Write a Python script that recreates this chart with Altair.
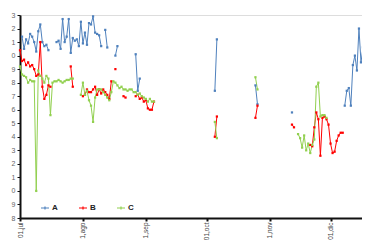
import altair as alt
import pandas as pd
from datetime import date, timedelta

series_names = ["A", "B", "C"]
series_colors = ["#4F81BD", "#FF0000", "#92D050"]

# segments: (start date, consecutive daily values); a new segment = a gap in the line
A_segments = [
    ("2013-07-02", [31.4, 30.5, 31.2, 30.9, 31.6, 31.4, 31.0, 30.3, 31.8, 32.3, 31.0, 30.7, 30.8, 30.4]),
    ("2013-07-19", [31.0, 31.1, 30.5, 32.7, 31.0, 31.4, 32.7, 30.2, 31.3, 31.1, 31.2, 30.7, 32.5, 30.9,
                    31.7, 30.8, 32.4, 32.3, 32.9, 31.7, 31.6, 31.5, 30.7]),
    ("2013-08-12", [31.9, 30.6]),
    ("2013-08-17", [30.0, 30.7]),
    ("2013-08-27", [30.1, 27.4, 28.3]),
    ("2013-10-05", [27.4, 31.2]),
    ("2013-10-25", [27.8, 26.4]),
    ("2013-11-12", [25.8]),
    ("2013-12-08", [26.3, 27.4, 27.6, 26.3, 29.3, 30.0, 28.9, 32.0, 29.5, 30.6]),
]
B_segments = [
    ("2013-07-01", [30.4, 29.6, 29.7, 29.3, 29.5, 29.2, 29.3, 29.0, 28.5, 28.6, 31.0, 27.7, 26.8, 27.1,
                    27.8, 27.7]),
    ("2013-07-26", [29.2, 27.7]),
    ("2013-08-01", [27.0, 27.1, 27.5, 27.3, 27.3, 27.5, 27.7, 27.1, 27.5, 27.2, 27.5, 27.3, 27.1, 26.8, 28.1]),
    ("2013-08-17", [29.0]),
    ("2013-08-21", [27.0, 26.9]),
    ("2013-08-27", [27.0, 27.1, 26.8, 26.9, 26.6, 26.7, 26.1, 26.0, 26.0, 26.6]),
    ("2013-10-05", [24.0, 25.5]),
    ("2013-10-25", [25.4, 26.3]),
    ("2013-11-12", [24.9, 24.7]),
    ("2013-11-21", [23.4, 23.3, 24.7, 25.8, 25.3, 22.6, 25.4, 25.5, 25.3, 24.9, 23.5, 22.8, 22.9, 23.7,
                    24.1, 24.3, 24.3]),
]
C_segments = [
    ("2013-07-01", [29.2, 28.6, 28.5, 28.4, 28.0, 28.2, 28.1, 28.1, 20.0, 28.9, 28.5, 28.3, 28.0, 28.5,
                    28.3, 25.6, 28.0, 28.1, 28.1, 28.2, 28.1, 28.0, 28.1, 28.2, 28.2, 28.3, 28.3]),
    ("2013-07-31", [27.1, 28.0, 27.1, 27.4, 26.7, 26.3, 25.1, 26.9, 27.5, 27.5, 27.5, 27.3, 27.1, 26.9,
                    26.7, 27.3, 28.1, 28.0, 27.8, 27.6, 27.7, 27.5, 27.5, 27.4, 27.5, 27.5, 27.3, 27.3,
                    27.1, 27.2, 27.0, 26.9, 26.8, 26.6, 26.8, 26.6, 26.6]),
    ("2013-10-05", [25.1, 23.9]),
    ("2013-10-25", [28.4, 27.5]),
    ("2013-11-15", [24.2, 23.9, 23.2, 24.1, 23.0, 23.5, 22.8, 23.4, 23.8, 27.7, 28.0, 25.5, 25.6, 25.6, 25.4]),
]

x_labels = ["01,jul", "1,ago", "1,sep", "01,oct", "1,nov", "01,dic"]
y_ticks = list(range(18, 34))

rows = []
for name, segs in zip(series_names, [A_segments, B_segments, C_segments]):
    for k, (start, vals) in enumerate(segs):
        d0 = date.fromisoformat(start)
        for i, v in enumerate(vals):
            rows.append({"series": name, "seg": f"{name}{k}",
                         "date": (d0 + timedelta(days=i)).isoformat(), "value": v})
df = pd.DataFrame(rows)

label_expr = "[" + ",".join(f"'{s}'" for s in x_labels) + "][utcmonth(datum.value) - 6]"
month_ticks = [alt.DateTime(year=2013, month=m, date=1, utc=True) for m in range(7, 13)]

chart = alt.Chart(df).mark_line(
    strokeWidth=1,
    point=alt.OverlayMarkDef(shape="square", size=5, filled=True),
).encode(
    x=alt.X("date:T", title=None,
            scale=alt.Scale(type="utc",
                            domain=[alt.DateTime(year=2013, month=7, date=1, utc=True),
                                    alt.DateTime(year=2013, month=12, date=16, hours=12, utc=True)]),
            axis=alt.Axis(values=month_ticks, labelExpr=label_expr, labelAngle=-90,
                          labelFontSize=6.5, labelColor="#444", labelPadding=1,
                          domainColor="#111", domainWidth=2, tickColor="#111",
                          tickSize=3, tickWidth=2, grid=False)),
    y=alt.Y("value:Q", title=None,
            scale=alt.Scale(domain=[18, 33], zero=False, nice=False),
            axis=alt.Axis(values=y_ticks, labelExpr="datum.value % 10",
                          labelFontSize=7, labelColor="#666", labelPadding=2,
                          domainColor="#111", domainWidth=2, tickColor="#111",
                          tickSize=3, tickWidth=1, grid=False)),
    color=alt.Color("series:N",
                    scale=alt.Scale(domain=series_names, range=series_colors),
                    legend=alt.Legend(title=None, orient="none", legendX=20, legendY=188,
                                      direction="horizontal",
                                      symbolType="M-1,0H1M0,-0.35V0.35",
                                      symbolSize=64, symbolStrokeWidth=1.2,
                                      labelFontSize=8, labelFontWeight="bold",
                                      labelColor="#222", labelOffset=2,
                                      columnPadding=18)),
    detail="seg:N",
).properties(
    width=342,
    height=203,
    autosize=alt.AutoSizeParams(type="none"),
    padding={"left": 12, "top": 7, "right": 0, "bottom": 24},
).configure_view(stroke=None).configure(font="Liberation Sans")

chart.save("out.html", embed_options={"renderer": "svg", "actions": False})
